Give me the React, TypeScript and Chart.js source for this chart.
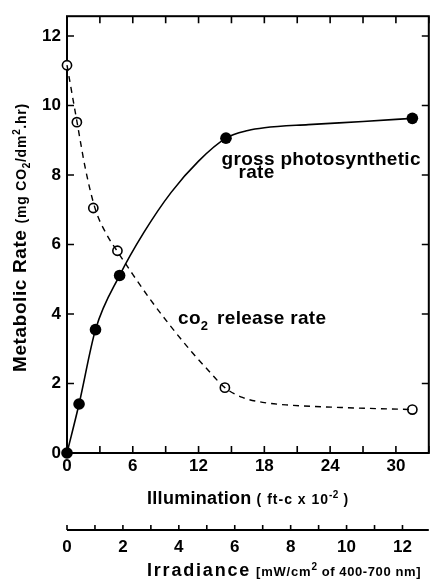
import React, { useEffect, useRef } from "react";
import { Chart, registerables } from "chart.js";

Chart.register(...registerables);

// Measured points: illumination (ft-c x 10^-2) and rates (mg CO2 / dm^2 . hr)
const co2Illumination = [0, 0.9, 2.4, 4.6, 14.4, 31.5];
const co2ReleaseRate = [11.16, 9.52, 7.05, 5.82, 1.88, 1.25];
const grossIllumination = [0, 1.1, 2.6, 4.8, 14.5, 31.5];
const grossPhotosyntheticRate = [0, 1.41, 3.55, 5.11, 9.06, 9.63];

// Hand-drawn fitted curves
const grossCurveX = [0, 1.1, 2.6, 4.8, 7, 9.5, 12, 14.5, 16.5, 18, 22, 27, 31.5];
const grossCurveY = [0, 1.41, 3.55, 5.11, 6.34, 7.5, 8.4, 9.06, 9.28, 9.36, 9.45, 9.54, 9.63];
const co2CurveX = [0, 0.9, 1.7, 2.6, 3.6, 4.6, 6, 7.5, 9.3, 11.4, 13, 14.4, 16, 18, 20.2, 25, 31.5];
const co2CurveY = [11.16, 9.55, 8.15, 7.0, 6.3, 5.8, 5.14, 4.46, 3.71, 2.9, 2.34, 1.88, 1.6, 1.45, 1.38, 1.31, 1.25];

const illuminationMax = 33;
const irradiancePerIllumination = 12 / 30.6; // 12 mW/cm2 sits at 30.6 ft-c x10^-2
const rateMax = 12.57;

const FONT = '"Liberation Sans", Arial, Helvetica, sans-serif';

type Run = { t: string; size: number; dy?: number; ls?: number; gap?: number };

function drawRuns(ctx: CanvasRenderingContext2D, runs: Run[], x: number, y: number) {
  let cx = x;
  for (const r of runs) {
    ctx.font = `bold ${r.size}px ${FONT}`;
    (ctx as any).letterSpacing = `${r.ls ?? 0}px`;
    ctx.fillText(r.t, cx, y + (r.dy ?? 0));
    cx += ctx.measureText(r.t).width + (r.gap ?? 0);
  }
  (ctx as any).letterSpacing = "0px";
}

const framePlugin = {
  id: "frame",
  beforeDatasetsDraw(chart: any) {
    const { ctx, chartArea: a, scales } = chart;
    const x = scales.x;
    const y = scales.y;
    const x2 = scales.x2;
    ctx.save();
    ctx.strokeStyle = "#000";
    ctx.lineWidth = 2;
    ctx.strokeRect(a.left, a.top, a.right - a.left, a.bottom - a.top);
    ctx.beginPath();
    ctx.lineWidth = 1.6;
    for (const t of x.ticks) {
      const px = x.getPixelForValue(t.value);
      ctx.moveTo(px, a.bottom);
      ctx.lineTo(px, a.bottom - 7);
      ctx.moveTo(px, a.top);
      ctx.lineTo(px, a.top + 7);
    }
    for (const t of y.ticks) {
      const py = y.getPixelForValue(t.value);
      ctx.moveTo(a.left, py);
      ctx.lineTo(a.left + 7, py);
      ctx.moveTo(a.right, py);
      ctx.lineTo(a.right - 7, py);
    }
    ctx.stroke();
    // irradiance axis
    ctx.beginPath();
    ctx.lineWidth = 2;
    ctx.moveTo(x2.left, x2.top);
    ctx.lineTo(x2.right, x2.top);
    ctx.stroke();
    ctx.beginPath();
    ctx.lineWidth = 1.6;
    for (const t of x2.ticks) {
      const px = x2.getPixelForValue(t.value);
      ctx.moveTo(px, x2.top);
      ctx.lineTo(px, x2.top - 5);
    }
    ctx.stroke();
    ctx.restore();
  },
  afterDraw(chart: any) {
    const { ctx, scales } = chart;
    const x = scales.x;
    const y = scales.y;
    ctx.save();
    ctx.fillStyle = "#000";
    ctx.textBaseline = "alphabetic";
    ctx.textAlign = "left";

    // y title
    ctx.save();
    ctx.translate(26, 372);
    ctx.rotate(-Math.PI / 2);
    drawRuns(
      ctx,
      [
        { t: "Metabolic Rate", size: 19, ls: 0.6, gap: 6 },
        { t: "(mg CO", size: 14, ls: 0.8 },
        { t: "2", size: 10, dy: 4, ls: 0.5 },
        { t: "/dm", size: 14, ls: 0.8 },
        { t: "2", size: 10, dy: -6, ls: 0.5 },
        { t: ".hr)", size: 14, ls: 0.8 },
      ],
      0,
      0
    );
    ctx.restore();

    // x title
    drawRuns(
      ctx,
      [
        { t: "Illumination", size: 18, ls: 0.3, gap: 5 },
        { t: "( ft-c x 10", size: 14, ls: 1 },
        { t: "-2", size: 10, dy: -6, ls: 0.3 },
        { t: " )", size: 14, ls: 1 },
      ],
      147,
      504
    );

    // irradiance title
    drawRuns(
      ctx,
      [
        { t: "Irradiance", size: 18, ls: 1.8, gap: 5 },
        { t: "[mW/cm", size: 13, ls: 0.8 },
        { t: "2", size: 10, dy: -6, ls: 0.5 },
        { t: " of 400-700 nm]", size: 13, ls: 0.6 },
      ],
      147,
      576
    );

    // annotations
    drawRuns(ctx, [{ t: "gross photosynthetic", size: 19, ls: 0.3 }], x.getPixelForValue(14.1), y.getPixelForValue(8.3));
    drawRuns(ctx, [{ t: "rate", size: 19, ls: 0.3 }], x.getPixelForValue(15.64), y.getPixelForValue(7.9));
    drawRuns(
      ctx,
      [
        { t: "co", size: 19, ls: 0.3 },
        { t: "2", size: 13, dy: 6, gap: 9 },
        { t: "release rate", size: 19, ls: 0.3 },
      ],
      x.getPixelForValue(10.13),
      y.getPixelForValue(3.72)
    );
    ctx.restore();
  },
};

export default function App() {
  const ref = useRef<HTMLCanvasElement | null>(null);
  useEffect(() => {
    if (!ref.current) return;
    const pts = (xs: number[], ys: number[]) => xs.map((v, i) => ({ x: v, y: ys[i] }));
    const chart = new Chart(ref.current, {
      type: "line",
      data: {
        datasets: [
          {
            label: "gross photosynthetic curve",
            data: pts(grossCurveX, grossCurveY),
            borderColor: "#000",
            borderWidth: 1.6,
            pointRadius: 0,
            cubicInterpolationMode: "monotone",
            clip: false,
          } as any,
          {
            label: "CO2 release curve",
            data: pts(co2CurveX, co2CurveY),
            borderColor: "#000",
            borderWidth: 1.4,
            borderDash: [6, 5],
            pointRadius: 0,
            cubicInterpolationMode: "monotone",
            clip: false,
          } as any,
          {
            label: "gross photosynthetic rate",
            data: pts(grossIllumination, grossPhotosyntheticRate),
            showLine: false,
            pointBackgroundColor: "#000",
            pointBorderColor: "#000",
            pointRadius: 5.8,
            pointBorderWidth: 0,
            clip: false,
          } as any,
          {
            label: "CO2 release rate",
            data: pts(co2Illumination, co2ReleaseRate),
            showLine: false,
            pointBackgroundColor: "#fff",
            pointBorderColor: "#000",
            pointRadius: 4.6,
            pointBorderWidth: 1.6,
            clip: false,
          } as any,
        ],
      },
      options: {
        responsive: false,
        animation: false,
        events: [],
        layout: { padding: { top: 10, right: 3, left: 0, bottom: 0 } },
        plugins: { legend: { display: false }, tooltip: { enabled: false }, title: { display: false } },
        scales: {
          x: {
            type: "linear",
            position: "bottom",
            min: 0,
            max: illuminationMax,
            grid: { display: false, drawTicks: false },
            border: { display: false },
            ticks: {
              stepSize: 3,
              autoSkip: false,
              maxRotation: 0,
              includeBounds: false,
              padding: 3,
              color: "#000",
              font: { family: FONT, size: 17, weight: "bold" },
              callback: (v: any) => (Number(v) % 6 === 0 ? String(v) : ""),
            },
            afterFit: (s: any) => {
              s.height = 77;
            },
          },
          x2: {
            type: "linear",
            position: "bottom",
            min: 0,
            max: illuminationMax * irradiancePerIllumination,
            grid: { display: false, drawTicks: false },
            border: { display: false },
            ticks: {
              stepSize: 1,
              autoSkip: false,
              maxRotation: 0,
              includeBounds: false,
              padding: 7,
              color: "#000",
              font: { family: FONT, size: 17, weight: "bold" },
              callback: (v: any) => (Number(v) % 2 === 0 ? String(v) : ""),
            },
            afterFit: (s: any) => {
              s.height = 52;
            },
          },
          y: {
            type: "linear",
            min: 0,
            max: rateMax,
            grid: { display: false, drawTicks: false },
            border: { display: false },
            ticks: {
              stepSize: 2,
              includeBounds: false,
              padding: 6,
              color: "#000",
              font: { family: FONT, size: 17, weight: "bold" },
            },
            afterFit: (s: any) => {
              s.width = 67;
            },
          },
        },
      } as any,
      plugins: [framePlugin],
    });
    return () => chart.destroy();
  }, []);
  return (
    <canvas
      ref={ref}
      width={435}
      height={582}
      style={{ position: "absolute", left: 0, top: 0, display: "block", width: 435, height: 582 }}
    />
  );
}
